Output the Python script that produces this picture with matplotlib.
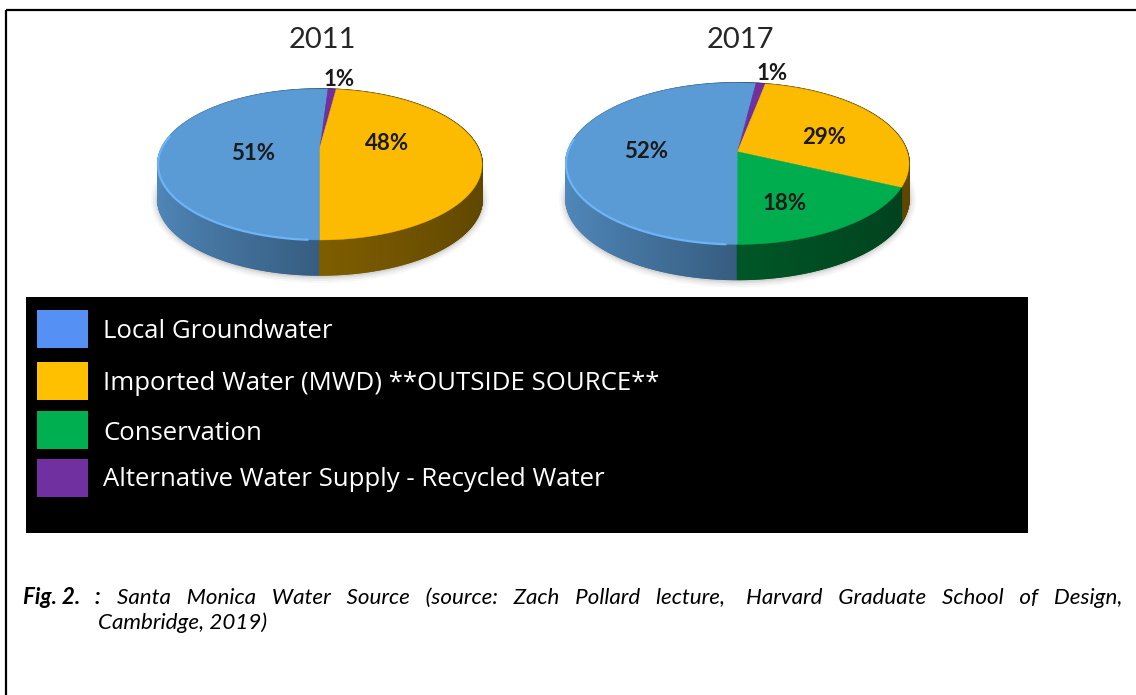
import numpy as np
import matplotlib
matplotlib.use("Agg")
import matplotlib.pyplot as plt
from matplotlib.collections import PolyCollection
from matplotlib.patches import Rectangle, Ellipse

# ---- data ----
years = ["2011", "2017"]
sources_2011 = ["Local Groundwater", "Alternative Water Supply - Recycled Water", "Imported Water (MWD) **OUTSIDE SOURCE**"]
values_2011 = [51, 1, 48]
sources_2017 = ["Local Groundwater", "Alternative Water Supply - Recycled Water", "Imported Water (MWD) **OUTSIDE SOURCE**", "Conservation"]
values_2017 = [52, 1, 29, 18]
legend_labels = ["Local Groundwater", "Imported Water (MWD) **OUTSIDE SOURCE**", "Conservation", "Alternative Water Supply - Recycled Water"]
caption_head = "Fig. 2.   :"
caption_line1 = "Santa   Monica   Water   Source   (source:   Zach   Pollard   lecture,    Harvard   Graduate   School   of   Design,"
caption_line2 = "Cambridge, 2019)"

# ---- styles and layout (pixels) ----
pie_colors = {"Local Groundwater": "#5b9bd5", "Imported Water (MWD) **OUTSIDE SOURCE**": "#fdbb00",
              "Conservation": "#00ad4e", "Alternative Water Supply - Recycled Water": "#7030a0"}
swatch_colors = ["#5591f5", "#ffc000", "#00b050", "#7030a0"]
swatch_tops = [310, 362, 411, 459]
legend_text_y = [331, 383, 433, 479]
label_xy_2011 = [(253, 154), (339, 79), (387, 143)]
label_xy_2017 = [(646, 152), (772, 74), (824, 138), (785, 204)]
# apex x, apex y, R, near-depth a, perspective k, side depth
geom_2011 = (320, 147, 157.6, 71.4, 0.232, 35)
geom_2017 = (737.5, 151.7, 169.6, 79.0, 0.148, 35)
FONT = "Lato"
LEGEND_FONT = "Open Sans"
DARK = "#1a1a1a"
CAPTION_SIZE = 16.1

W, H = 1136, 695
fig = plt.figure(figsize=(W / 100, H / 100), dpi=100, facecolor="white")
ax = fig.add_axes([0, 0, 1, 1])
ax.set_xlim(0, W)
ax.set_ylim(H, 0)
ax.axis("off")


def project(theta, g):
    cx, cy, R, a, k, _ = g
    u, v = np.sin(theta), np.cos(theta)
    w = 1 + k * v
    return cx + R * u / w, cy - a * v / w


def side_shade(u):
    return np.where(u < 0, 0.60 + (-u) * 0.28, 0.50 - u * 0.13)


def draw_pie(names, values, g, label_xy, title, title_x):
    depth = g[5]
    # soft shadow
    rim_x, rim_y = project(np.linspace(0, 2 * np.pi, 200), g)
    for grow, alpha in zip([14, 10, 6, 3], [0.03, 0.04, 0.05, 0.06]):
        ax.add_patch(Ellipse(((rim_x.min() + rim_x.max()) / 2, (rim_y.min() + rim_y.max()) / 2 + depth + 1),
                             rim_x.max() - rim_x.min() + grow, rim_y.max() - rim_y.min() + grow,
                             fc="black", ec="none", alpha=alpha, zorder=1))
    edges = np.pi + 2 * np.pi * np.cumsum([0] + list(values)) / sum(values)
    # sides
    for name, t0, t1 in zip(names, edges[:-1], edges[1:]):
        n = max(int((t1 - t0) / 0.008), 2)
        ts = np.linspace(t0, t1, n + 1)
        x, y = project(ts, g)
        polys, cols = [], []
        base = np.array(matplotlib.colors.to_rgb(pie_colors[name]))
        for i in range(n):
            polys.append([(x[i], y[i]), (x[i + 1], y[i + 1]), (x[i + 1], y[i + 1] + depth), (x[i], y[i] + depth)])
            cols.append(tuple(base * float(side_shade(np.sin((ts[i] + ts[i + 1]) / 2)))))
        ax.add_collection(PolyCollection(polys, facecolors=cols, edgecolors=cols, linewidths=1.2, zorder=2))
    # top face
    for name, t0, t1 in zip(names, edges[:-1], edges[1:]):
        ts = np.linspace(t0, t1, max(int((t1 - t0) / 0.01), 2))
        x, y = project(ts, g)
        ax.fill(np.r_[g[0], x], np.r_[g[1], y], color=pie_colors[name], lw=0.3, zorder=3)
    # highlight on the front-left rim of the first wedge
    ts = np.linspace(np.pi + 0.06, np.pi * 1.55, 100)
    x, y = project(ts, g)
    ax.plot(x, y, color="#6db3f7", lw=1.6, zorder=4, solid_capstyle="round")
    for v, (lx, ly) in zip(values, label_xy):
        ax.text(lx, ly, f"{v}%", ha="center", va="center", fontsize=16, fontweight="bold",
                family=FONT, color=DARK, zorder=5)
    ax.text(title_x, 40, title, ha="center", va="center", fontsize=21, family=FONT, color="#262626", zorder=5)


draw_pie(sources_2011, values_2011, geom_2011, label_xy_2011, years[0], 322)
draw_pie(sources_2017, values_2017, geom_2017, label_xy_2017, years[1], 740)

# legend panel
ax.add_patch(Rectangle((26, 297), 1002, 236, fc="black", ec="none", zorder=1.5))
for c, top, lab, ty in zip(swatch_colors, swatch_tops, legend_labels, legend_text_y):
    ax.add_patch(Rectangle((37, top), 51, 38, fc=c, ec="none", zorder=2))
    ax.text(103, ty, lab, ha="left", va="center", fontsize=18.5, family=LEGEND_FONT, color="white", zorder=3)

# caption
ax.text(23, 598, caption_head, ha="left", va="center", fontsize=CAPTION_SIZE, family=FONT,
        fontweight="bold", style="italic", color="black")
ax.text(117, 598, caption_line1, ha="left", va="center", fontsize=CAPTION_SIZE, family=FONT,
        style="italic", color="black")
ax.text(98, 623, caption_line2, ha="left", va="center", fontsize=CAPTION_SIZE, family=FONT,
        style="italic", color="black")

# page border
ax.plot([6, 6], [695, 10], color="black", lw=1.6, zorder=6, solid_capstyle="butt")
ax.plot([6, 1136], [10, 10], color="black", lw=1.6, zorder=6, solid_capstyle="butt")

fig.savefig("out.png", dpi=100, facecolor="white")
